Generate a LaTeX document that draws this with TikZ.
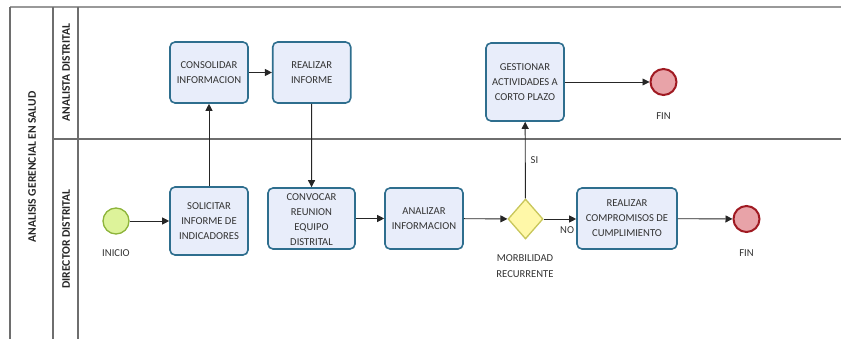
\documentclass[tikz,border=0pt]{standalone}
\usepackage{fontspec}
\setmainfont{Carlito}
\usetikzlibrary{arrows.meta,shapes.geometric}
\definecolor{boxfill}{HTML}{E8EDFA}
\definecolor{boxdraw}{HTML}{2E6E8E}
\definecolor{startfill}{HTML}{DDF39A}
\definecolor{startdraw}{HTML}{8DB43A}
\definecolor{endfill}{HTML}{E8A3A8}
\definecolor{enddraw}{HTML}{A01A22}
\definecolor{gwfill}{HTML}{FFF8A8}
\definecolor{gwdraw}{HTML}{C8C65A}
\definecolor{lanegray}{HTML}{6E6E6E}
\definecolor{txt}{HTML}{333333}
\tikzset{
  x=1pt,y=-1pt,
  task/.style={draw=boxdraw,fill=boxfill,line width=1.6pt,rounded corners=5pt,
    minimum width=78pt,minimum height=61pt,align=center,inner sep=1pt,
    font=\fontsize{10.6}{15}\selectfont,text=txt},
  startev/.style={circle,draw=startdraw,fill=startfill,line width=1.3pt,minimum size=26pt,inner sep=0pt},
  endev/.style={circle,draw=enddraw,fill=endfill,line width=2pt,minimum size=26pt,inner sep=0pt},
  gw/.style={diamond,draw=gwdraw,fill=gwfill,line width=1.3pt,minimum width=35pt,minimum height=40pt,inner sep=0pt},
  lbl/.style={font=\fontsize{10.6}{15.5}\selectfont,text=txt,align=center,inner sep=0pt},
  flow/.style={-{Triangle[length=7pt,width=7pt]},line width=0.9pt,draw=black!85},
  lanetxt/.style={rotate=90,font=\bfseries\fontsize{11.6}{12}\selectfont,text=black!85,inner sep=0pt},
  laneline/.style={draw=lanegray,line width=1.1pt}
}
\begin{document}
\begin{tikzpicture}
\useasboundingbox (0,0) rectangle (841,339);
% pool and lanes
\coordinate (pTL) at (10,7);
\coordinate (pTR) at (841,7);
\coordinate (pBL) at (10,339);
\coordinate (hTL) at (53,7);
\coordinate (hBL) at (53,339);
\coordinate (lTL) at (78,7);
\coordinate (lBL) at (78,339);
\coordinate (sepL) at (53,139);
\coordinate (sepR) at (841,139);
\draw[draw=gray!80,line width=1.3pt] (pTL) -- (pTR);
\draw[laneline] (pTL) -- (pBL);
\draw[laneline] (hTL) -- (hBL);
\draw[laneline] (lTL) -- (lBL);
\draw[laneline] (sepL) -- (sepR);
\node[lanetxt] (pool) at (32,167) {ANALISIS GERENCIAL EN SALUD};
\node[lanetxt] (lane1) at (66,72.5) {ANALISTA DISTRITAL};
\node[lanetxt] (lane2) at (66,239) {DIRECTOR DISTRITAL};
% nodes
\node[startev] (ini) at (116,221) {};
\node[lbl] (iniL) at (116,253) {INICIO};
\node[task,minimum height=68pt] (sol) at (209,221) {SOLICITAR\\INFORME DE\\INDICADORES};
\node[task] (con) at (209,72.5) {CONSOLIDAR\\INFORMACION};
\node[task] (rea) at (311.7,72.5) {REALIZAR\\INFORME};
\node[task,minimum width=87pt] (cnv) at (311.5,218.5) {};
\begin{scope}
\clip (cnv.south west) rectangle (cnv.north east);
\node[lbl,font=\fontsize{10.6}{15}\selectfont] (cnvT) at (311.5,219.5) {CONVOCAR\\REUNION\\EQUIPO\\DISTRITAL};
\end{scope}
\node[task] (ana) at (424,218.5) {ANALIZAR\\INFORMACION};
\node[gw] (gwy) at (525.5,219) {};
\node[lbl] (gwL) at (525,266) {MORBILIDAD\\RECURRENTE};
\node[task,minimum height=78pt] (ges) at (525,82) {GESTIONAR\\ACTIVIDADES A\\CORTO PLAZO};
\node[endev] (fin1) at (663.5,82) {};
\node[lbl] (fin1L) at (663.5,116) {FIN};
\node[task,minimum width=100pt] (com) at (627,218.5) {REALIZAR\\COMPROMISOS DE\\CUMPLIMIENTO};
\node[endev] (fin2) at (746.5,219) {};
\node[lbl] (fin2L) at (746.5,253) {FIN};
% flows
\draw[flow] (ini) -- (sol);
\draw[flow] (sol) -- (con);
\draw[flow] (con) -- (rea);
\draw[flow] (rea) -- (cnv);
\draw[flow] (cnv) -- (ana);
\draw[flow] (ana) -- (gwy);
\draw[flow] (gwy) -- node[lbl,pos=0.5,right=5pt] {SI} (ges);
\draw[flow] (gwy) -- node[lbl,pos=0.72,below=7pt] {NO} (com.west |- gwy);
\draw[flow] (ges) -- (fin1);
\draw[flow] (com) -- (fin2);
\end{tikzpicture}
\end{document}
